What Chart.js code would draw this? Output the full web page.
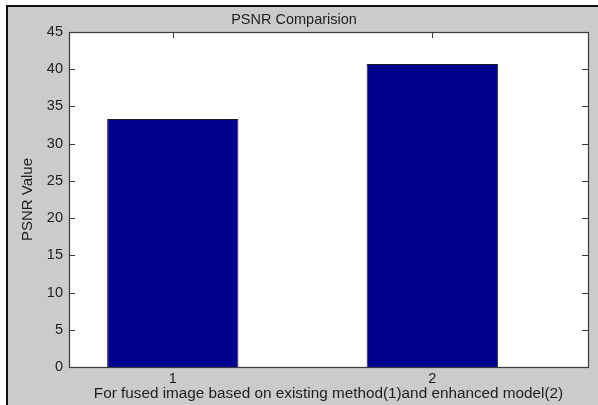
<!DOCTYPE html>
<html>
<head>
<meta charset="utf-8">
<script src="https://cdn.jsdelivr.net/npm/chart.js@4/dist/chart.umd.min.js"></script>
<style>
  html, body { margin: 0; padding: 0; background: #ffffff; width: 598px; height: 405px; overflow: hidden; }
  #fig { position: absolute; left: 6px; top: 5px; width: 592px; height: 400px; box-sizing: border-box;
         background: #cbcbcb; border-left: 2px solid #111; border-top: 2px solid #111; }
  #c { position: absolute; left: 0; top: 0; }
</style>
</head>
<body>
<div id="fig"></div>
<canvas id="c" width="598" height="405"></canvas>
<script>
// ---- data ----
const categories = [1, 2];
const psnrValues = [33.3, 40.7];
const yTicks = [0, 5, 10, 15, 20, 25, 30, 35, 40, 45];
const xTicks = [1, 2];
const chartTitle = 'PSNR Comparision';
const xTitle = 'For fused image based on existing method(1)and enhanced model(2)';
const yTitle = 'PSNR Value';

const FONT = "'Liberation Sans', Arial, Helvetica, sans-serif";
const TXT = '#1e1e1e';

const matlabAxes = {
  id: 'matlabAxes',
  beforeDraw(chart) {
    const a = chart.chartArea, ctx = chart.ctx;
    ctx.save();
    ctx.fillStyle = '#ffffff';
    ctx.fillRect(a.left, a.top, a.right - a.left, a.bottom - a.top);
    ctx.restore();
  },
  beforeDatasetsDraw(chart) {
    const a = chart.chartArea, ctx = chart.ctx;
    const xs = chart.scales.x, ys = chart.scales.y;
    const L = 6;
    ctx.save();
    ctx.strokeStyle = '#3a3a3a';
    ctx.lineWidth = 1;
    ctx.beginPath();
    ys.ticks.forEach(t => {
      const y = Math.round(ys.getPixelForValue(t.value)) + 0.5;
      ctx.moveTo(a.left, y); ctx.lineTo(a.left + L, y);
      ctx.moveTo(a.right, y); ctx.lineTo(a.right - L, y);
    });
    xs.ticks.forEach(t => {
      const x = Math.round(xs.getPixelForValue(t.value)) + 0.5;
      ctx.moveTo(x, a.top); ctx.lineTo(x, a.top + L);
      ctx.moveTo(x, a.bottom); ctx.lineTo(x, a.bottom - L);
    });
    ctx.stroke();
    ctx.restore();
  },
  afterDatasetsDraw(chart) {
    const a = chart.chartArea, ctx = chart.ctx;
    ctx.save();
    ctx.strokeStyle = '#3a3a3a';
    ctx.lineWidth = 1.2;
    ctx.strokeRect(Math.round(a.left) + 0.5, Math.round(a.top) + 0.5,
                   Math.round(a.right - a.left), Math.round(a.bottom - a.top));
    ctx.restore();
  }
};

new Chart(document.getElementById('c'), {
  type: 'bar',
  data: {
    datasets: [{
      data: categories.map((c, i) => ({ x: c, y: psnrValues[i] })),
      backgroundColor: '#00008f',
      borderColor: '#1a1a2a',
      borderWidth: 1,
      categoryPercentage: 1,
      barPercentage: 0.506
    }]
  },
  options: {
    responsive: false,
    devicePixelRatio: 1,
    animation: false,
    layout: { padding: { left: 0, right: 10, top: 0, bottom: 0 } },
    plugins: {
      legend: { display: false },
      tooltip: { enabled: false },
      title: {
        display: true, text: chartTitle, color: TXT,
        font: { family: FONT, size: 14.5, weight: 'normal', lineHeight: 1.2 },
        padding: { top: 11.6, bottom: 3 }
      }
    },
    scales: {
      x: {
        type: 'linear', min: 0.6, max: 2.6, offset: false,
        afterBuildTicks: s => { s.ticks = xTicks.map(v => ({ value: v })); },
        afterFit: s => { s.height = 38; },
        grid: { display: false, drawTicks: false, offset: false },
        border: { display: false },
        ticks: { color: TXT, padding: 3, font: { family: FONT, size: 14.5, lineHeight: 1.2 },
                 callback: v => String(v), maxRotation: 0 },
        title: { display: true, text: xTitle, color: TXT,
                 font: { family: FONT, size: 15.3, lineHeight: 1.2 }, padding: { top: 0, bottom: 2.3 } }
      },
      y: {
        min: 0, max: 45,
        afterBuildTicks: s => { s.ticks = yTicks.map(v => ({ value: v })); },
        afterFit: s => { s.width = 69; },
        grid: { display: false, drawTicks: false },
        border: { display: false },
        ticks: { color: TXT, padding: 6, font: { family: FONT, size: 14.5, lineHeight: 1.2 } },
        title: { display: true, text: yTitle, color: TXT,
                 font: { family: FONT, size: 15, lineHeight: 1.2 }, padding: { top: 19, bottom: 0 } }
      }
    }
  },
  plugins: [matlabAxes]
});
</script>
</body>
</html>
